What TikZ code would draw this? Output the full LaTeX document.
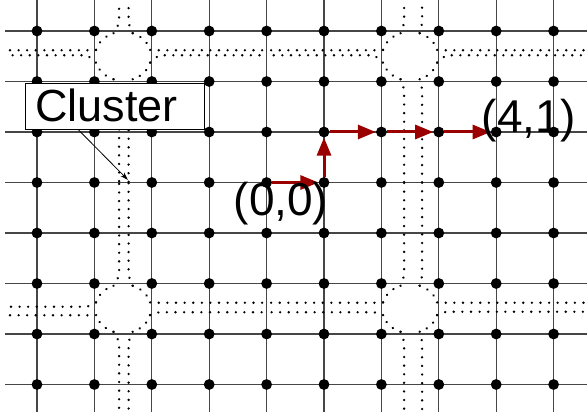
\documentclass[tikz,border=0pt]{standalone}
\usepackage{fontspec}
\setmainfont{Liberation Sans}
\usetikzlibrary{arrows.meta,calc}
\definecolor{pathred}{RGB}{155,0,0}
\definecolor{gridgray}{RGB}{70,70,70}
\begin{document}
\begin{tikzpicture}[x=1pt,y=-1pt,
  gridline/.style={draw=gridgray,line width=1.1pt},
  gdot/.style={circle,fill=black,inner sep=0pt,minimum size=10.8pt},
  dotline/.style={line width=2.6pt,dash pattern=on 0.01pt off 8.6pt,line cap=round},
  redarrow/.style={draw=pathred,line width=3pt,-{Triangle[length=18pt,width=14pt]}},
  bigtext/.style={font=\fontsize{46}{46}\selectfont,inner sep=0pt},
  calloutbox/.style={draw=black,fill=white,line width=0.8pt,minimum width=179pt,minimum height=46pt,inner sep=0pt},
  pointer/.style={draw=black,line width=0.8pt,-{Stealth[length=8pt,width=5pt]}}]
\useasboundingbox[fill=white] (0,0) rectangle (587,417);
% grid lines
\foreach \i in {0,...,9}{
  \draw[gridline] ({37+57.4*\i},0) -- ({37+57.4*\i},412);
}
\foreach \j in {0,...,7}{
  \draw[gridline] (5,{31+50.5*\j}) -- (587,{31+50.5*\j});
}
% clusters and corridors
\foreach \cx/\cy/\vl/\vr/\ta/\tb/\ua/\ub/\yu/\yd/\xl/\xr in {
  123.1/56.25/-4/5.5/-6/-1/-6/-1/4/182.5/5/266.6,
  410.1/56.25/-6/12/-6/-1/-6/-1/0/182.5/266.6/587,
  123.1/308.75/-4/5.5/-2/6.5/-6/3.5/182.5/412/5/266.6,
  410.1/308.75/-6/12/-6/3.5/-6/3/182.5/412/266.6/587}{
  \begin{scope}[shift={(\cx,\cy)}]
    \draw[dotline] (15:28 and 24.5) arc[start angle=15,end angle=70,x radius=28,y radius=24.5];
    \draw[dotline] (110:28 and 24.5) arc[start angle=110,end angle=165,x radius=28,y radius=24.5];
    \draw[dotline] (195:28 and 24.5) arc[start angle=195,end angle=250,x radius=28,y radius=24.5];
    \draw[dotline] (290:28 and 24.5) arc[start angle=290,end angle=345,x radius=28,y radius=24.5];
    % up
    \draw[dotline] (250:28 and 24.5) -- (\vl,-33) -- ({\vl},{\yu-\cy});
    \draw[dotline] (290:28 and 24.5) -- (\vr,-33) -- ({\vr},{\yu-\cy});
    % down
    \draw[dotline] (110:28 and 24.5) -- (\vl,33) -- ({\vl},{\yd-\cy});
    \draw[dotline] (70:28 and 24.5) -- (\vr,33) -- ({\vr},{\yd-\cy});
    % left
    \draw[dotline] (195:28 and 24.5) -- (-36,\ta) -- ({\xl-\cx},\ta);
    \draw[dotline] (165:28 and 24.5) -- (-36,\tb) -- ({\xl-\cx},\tb);
    % right
    \draw[dotline] (345:28 and 24.5) -- (36,\ua) -- ({\xr-\cx},\ua);
    \draw[dotline] (15:28 and 24.5) -- (36,\ub) -- ({\xr-\cx},\ub);
  \end{scope}
}
% grid dots
\foreach \i in {0,...,9}{
  \foreach \j in {0,...,7}{
    \node[gdot] (d-\i-\j) at ({37+57.4*\i},{31+50.5*\j}) {};
  }
}
% red path
\draw[redarrow] (d-4-3) -- (d-5-3);
\draw[redarrow] (d-5-3) -- (d-5-2);
\draw[redarrow] (d-5-2) -- (d-6-2);
\draw[redarrow] (d-6-2) -- (d-7-2);
\draw[redarrow] (d-7-2) -- (d-8-2);
% labels
\node[bigtext,anchor=base] (p00) at (281,215) {(0,0)};
\node[bigtext,anchor=base] (p41) at (529,133) {(4,1)};
% callout
\node[calloutbox] (cbox) at (114.5,106) {};
\node[font=\fontsize{45}{45}\selectfont,inner sep=0pt,anchor=base west] (clabel) at (35,122) {Cluster};
\coordinate (ctarget) at (128,180);
\draw[pointer] ([xshift=-36.5pt]cbox.south) -- (ctarget);
\end{tikzpicture}
\end{document}
